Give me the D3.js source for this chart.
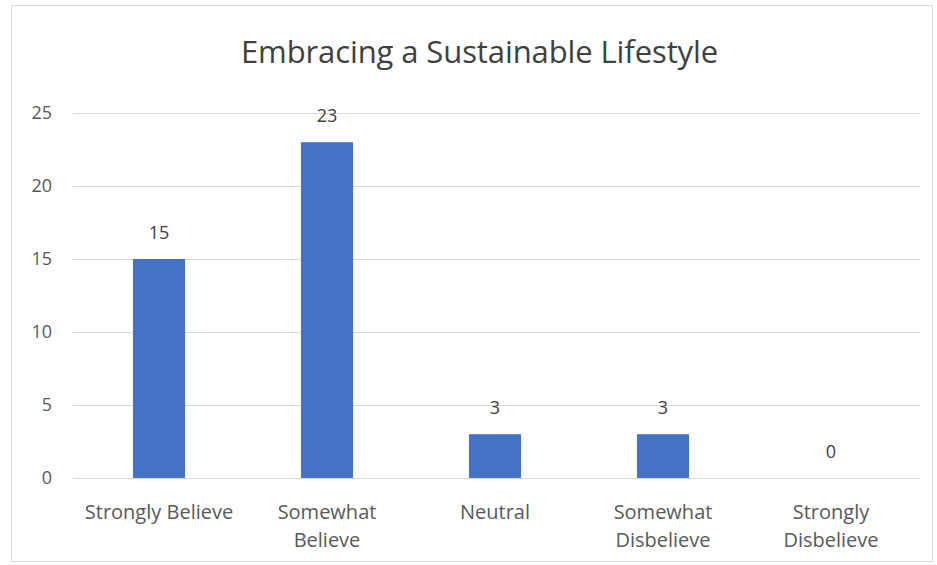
<!DOCTYPE html>
<html><head><meta charset="utf-8">
<script src="https://cdn.jsdelivr.net/npm/d3@7"></script>
<style>body{margin:0;background:#fff;} text{font-family:"Open Sans","Lato",sans-serif;}</style>
</head><body>
<svg id="chart" width="937" height="565"></svg>
<script>
const categories = [["Strongly Believe"], ["Somewhat", "Believe"], ["Neutral"], ["Somewhat", "Disbelieve"], ["Strongly", "Disbelieve"]];
const values = [15, 23, 3, 3, 0];
const yTicks = [0, 5, 10, 15, 20, 25];
const title = "Embracing a Sustainable Lifestyle";

const svg = d3.select("#chart");
svg.append("rect").attr("x", 11.5).attr("y", 5.5).attr("width", 921).attr("height", 556)
  .attr("fill", "#fff").attr("stroke", "#d9d9d9");

const keys = categories.map(c => c.join(" "));
const x = d3.scaleBand().domain(keys).range([75, 915]).paddingInner(0.69).paddingOuter(0.345);
const y = d3.scaleLinear().domain([0, 25]).range([478, 113]);

svg.append("text").attr("x", 479.5).attr("y", 63).attr("text-anchor", "middle")
  .attr("font-size", 31).attr("fill", "#404040")
  .style("letter-spacing", "-0.1px").text(title);

const yAxis = svg.append("g").attr("transform", "translate(73,0)")
  .call(d3.axisLeft(y).tickValues(yTicks).tickSize(-847).tickPadding(21));
yAxis.select(".domain").remove();
yAxis.selectAll("line").attr("stroke", "#d9d9d9");
yAxis.selectAll("text").attr("font-size", 18).attr("fill", "#595959");

svg.selectAll(".bar").data(values).enter().append("rect").attr("class", "bar")
  .attr("x", (d, i) => x(keys[i])).attr("width", x.bandwidth())
  .attr("y", d => y(d)).attr("height", d => y(0) - y(d)).attr("fill", "#4472c4");

svg.selectAll(".lbl").data(values).enter().append("text").attr("class", "lbl")
  .attr("x", (d, i) => x(keys[i]) + x.bandwidth() / 2).attr("y", d => y(d) - 20)
  .attr("text-anchor", "middle").attr("font-size", 18).attr("fill", "#404040").text(d => d);

const xAxis = svg.append("g").attr("transform", "translate(0,478)")
  .call(d3.axisBottom(x).tickSize(0).tickFormat(() => ""));
xAxis.select(".domain").attr("stroke", "#d9d9d9");
categories.forEach((lines, i) => {
  const cx = x(keys[i]) + x.bandwidth() / 2;
  const t = svg.append("text").attr("x", cx).attr("y", 519)
    .attr("text-anchor", "middle").attr("font-size", 20).attr("fill", "#595959");
  lines.forEach((l, j) => t.append("tspan").attr("x", cx).attr("dy", j ? 28 : 0).text(l));
});
</script>
</body></html>
